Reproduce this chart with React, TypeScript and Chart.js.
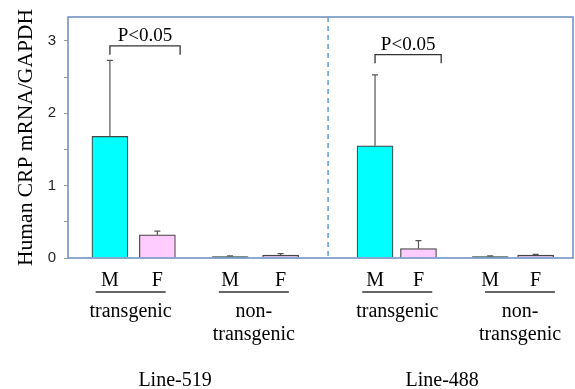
import React, { useEffect, useRef } from 'react';
import { Chart, registerables } from 'chart.js';
Chart.register(...registerables);

// ---- data ----
const sexLabels = ['M', 'F', 'M', 'F', 'M', 'F', 'M', 'F'];
const xPositions = [8.3, 17.7, 32.1, 42.1, 60.8, 69.4, 83.6, 92.6];
const means = [1.68, 0.32, 0.02, 0.04, 1.55, 0.13, 0.02, 0.04];
const errors = [1.05, 0.05, 0.01, 0.02, 0.98, 0.11, 0.01, 0.01];
const barColors = ['#00FFFF', '#FFCCFF', '#1E7A72', '#D8B8DE', '#00FFFF', '#FFCCFF', '#1E7A72', '#D8B8DE'];
const subgroupLabels = [['transgenic'], ['non-', 'transgenic'], ['transgenic'], ['non-', 'transgenic']];
const subgroupCenters = [12.4, 36.8, 65.2, 89.5];
const lineLabels = ['Line-519', 'Line-488'];
const lineCenters = [21.2, 74.1];
const dividerX = 51.5;
const sigLabel = 'P<0.05';
const brackets = [
  { from: 0, to: 1, y: 2.93 },
  { from: 4, to: 5, y: 2.81 },
];
const yTicks = [0, 0.5, 1, 1.5, 2, 2.5, 3];

const SERIF = '"Liberation Serif", "Times New Roman", serif';

const overlay = {
  id: 'overlay',
  afterDatasetsDraw(chart: any) {
    const { ctx, scales } = chart;
    const x = scales.x, y = scales.y;
    ctx.save();
    ctx.strokeStyle = '#555';
    ctx.lineWidth = 1.2;
    xPositions.forEach((xv, i) => {
      const px = x.getPixelForValue(xv);
      const y0 = y.getPixelForValue(means[i]);
      const y1 = y.getPixelForValue(means[i] + errors[i]);
      ctx.beginPath();
      ctx.moveTo(px, y0);
      ctx.lineTo(px, y1);
      ctx.moveTo(px - 3, y1);
      ctx.lineTo(px + 3, y1);
      ctx.stroke();
    });
    ctx.restore();
  },
  afterDraw(chart: any) {
    const { ctx, scales, chartArea } = chart;
    const x = scales.x, y = scales.y;
    ctx.save();
    ctx.strokeStyle = '#6A8CC0';
    ctx.lineWidth = 1.5;
    ctx.strokeRect(chartArea.left, chartArea.top, chartArea.right - chartArea.left, chartArea.bottom - chartArea.top);
    ctx.strokeStyle = '#5B9BD5';
    ctx.setLineDash([5, 4]);
    const dx = x.getPixelForValue(dividerX);
    ctx.beginPath();
    ctx.moveTo(dx, chartArea.top);
    ctx.lineTo(dx, chartArea.bottom);
    ctx.stroke();
    ctx.setLineDash([]);

    ctx.strokeStyle = '#333';
    ctx.lineWidth = 1.3;
    ctx.fillStyle = '#000';
    ctx.textAlign = 'center';
    ctx.textBaseline = 'alphabetic';
    brackets.forEach((b) => {
      const x0 = x.getPixelForValue(xPositions[b.from]);
      const x1 = x.getPixelForValue(xPositions[b.to] + 4.5);
      const yt = y.getPixelForValue(b.y);
      const yb = y.getPixelForValue(b.y - 0.12);
      ctx.beginPath();
      ctx.moveTo(x0, yb);
      ctx.lineTo(x0, yt);
      ctx.lineTo(x1, yt);
      ctx.lineTo(x1, yb);
      ctx.stroke();
      ctx.font = `19px ${SERIF}`;
      ctx.fillText(sigLabel, (x0 + x1) / 2, yt - 5);
    });

    ctx.font = `20px ${SERIF}`;
    sexLabels.forEach((s, i) => {
      ctx.fillText(s, x.getPixelForValue(xPositions[i]), 286);
    });
    subgroupCenters.forEach((c, i) => {
      const cx = x.getPixelForValue(c);
      ctx.beginPath();
      ctx.moveTo(cx - 35, 292);
      ctx.lineTo(cx + 35, 292);
      ctx.stroke();
      subgroupLabels[i].forEach((t, j) => {
        ctx.fillText(t, cx, 317 + j * 23);
      });
    });
    lineLabels.forEach((t, i) => {
      ctx.fillText(t, x.getPixelForValue(lineCenters[i]), 386);
    });
    ctx.restore();
  },
};

export default function App() {
  const ref = useRef<HTMLCanvasElement>(null);
  useEffect(() => {
    if (!ref.current) return;
    const chart = new Chart(ref.current, {
      type: 'bar',
      data: {
        datasets: [
          {
            data: xPositions.map((xv, i) => ({ x: xv, y: means[i] })),
            backgroundColor: barColors,
            borderColor: '#444',
            borderWidth: 1.2,
            barThickness: 36,
          } as any,
        ],
      },
      options: {
        animation: false,
        responsive: false,
        layout: { padding: { top: 8, right: 2, bottom: 131, left: 0 } },
        plugins: { legend: { display: false }, tooltip: { enabled: false } },
        scales: {
          x: { type: 'linear', min: 0, max: 100, display: false, offset: false },
          y: {
            min: 0,
            max: 3.33,
            afterBuildTicks: (s: any) => {
              s.ticks = yTicks.map((v) => ({ value: v }));
            },
            afterFit: (s: any) => {
              s.width = 68;
            },
            ticks: {
              callback: (v: any) => (Number.isInteger(v) ? String(v) : ''),
              font: { family: '"Liberation Sans", Arial, sans-serif', size: 15 },
              color: '#222',
              padding: 8,
            },
            grid: { drawOnChartArea: false, tickLength: 4, color: '#999' },
            border: { display: false },
            title: {
              display: true,
              text: 'Human CRP mRNA/GAPDH',
              font: { family: SERIF, size: 21.5 },
              color: '#000',
              padding: { top: 13, bottom: 0 },
            },
          },
        },
      } as any,
      plugins: [overlay],
    });
    return () => chart.destroy();
  }, []);
  return (
    <div style={{ position: 'fixed', left: 0, top: 0, width: 575, height: 389, background: '#fff' }}>
      <canvas ref={ref} width={575} height={389} />
    </div>
  );
}
